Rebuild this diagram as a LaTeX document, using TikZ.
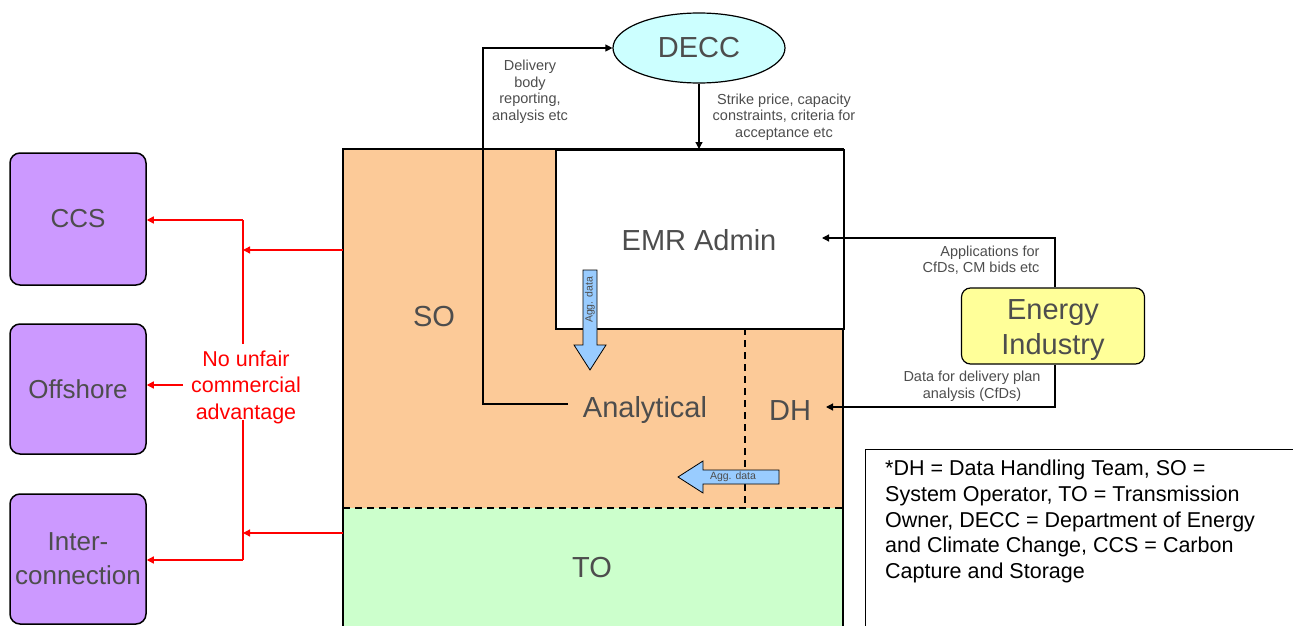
\documentclass[tikz,border=0pt]{standalone}
\usepackage{fontspec}
\setmainfont{Liberation Sans}
\usetikzlibrary{shapes.geometric,arrows.meta}
\definecolor{soorange}{HTML}{FCCA98}
\definecolor{togreen}{HTML}{CCFFCC}
\definecolor{deccblue}{HTML}{CCFFFF}
\definecolor{purp}{HTML}{CC99FF}
\definecolor{yel}{HTML}{FFFF99}
\definecolor{lblue}{HTML}{99CCFF}
\definecolor{txtgray}{HTML}{4D4D4D}
\begin{document}
\begin{tikzpicture}[x=1pt,y=-1pt,
  big/.style={font=\fontsize{29}{34}\selectfont, text=txtgray},
  small/.style={font=\fontsize{14.5}{16.5}\selectfont, text=txtgray, align=center},
  conn/.style={-{Triangle[length=7pt,width=7pt]}, line width=1.2pt},
  redconn/.style={-{Triangle[length=7pt,width=7pt]}, line width=1.3pt, red},
  sidebox/.style={draw, line width=1.5pt, rounded corners=10pt, fill=purp, font=\fontsize{26}{34}\selectfont, text=txtgray, align=center},
  bluearrow/.style={draw, line width=0.8pt, fill=lblue},
  aggtxt/.style={font=\fontsize{10.5}{12}\selectfont, text=txtgray}
]
\useasboundingbox (0,0) rectangle (1293,626);
% SO and TO
\path[fill=soorange] (343,149) rectangle (843,508);
\path[fill=togreen] (343,508) rectangle (843,630);
\draw[line width=1.5pt] (343,630) -- (343,149) -- (843,149) -- (843,630);
\draw[line width=1.8pt, dash pattern=on 7pt off 5pt] (343,508) -- (843,508);
\draw[line width=1.8pt, dash pattern=on 7pt off 5pt] (745,328) -- (745,508);
% EMR Admin
\node[draw, line width=2pt, fill=white, minimum width=288pt, minimum height=179pt, anchor=north west, inner sep=0pt] (emr) at (555,149) {};
\node[big] (emrt) at (699,240) {EMR Admin};
\node[big] (so) at (434,317) {SO};
\node[big] (ana) at (645,410) {Analytical};
\node[big] (dh) at (790,411) {DH};
\node[big] (to) at (592,568) {TO};
% DECC
\node[ellipse, draw, line width=1.2pt, fill=deccblue, minimum width=172pt, minimum height=70pt, inner sep=0pt, font=\fontsize{29}{30}\selectfont, text=txtgray] (decc) at (699,48) {DECC};
% Energy industry
\node[draw, line width=1.2pt, rounded corners=9pt, fill=yel, minimum width=183pt, minimum height=76pt, inner sep=0pt] (ei) at (1053,326) {};
\node[align=center, font=\fontsize{29}{34.5}\selectfont, text=txtgray] (eit) at (1053,330) {Energy\\Industry};
% Side boxes
\node[sidebox, minimum width=136pt, minimum height=132pt, inner sep=0pt] (ccs) at (78,219) {CCS};
\node[sidebox, minimum width=136pt, minimum height=130pt, inner sep=0pt] (off) at (78,389) {Offshore};
\node[sidebox, minimum width=136pt, minimum height=130pt, inner sep=0pt] (inter) at (78,559) {Inter-\\connection};
% Legend
\node[draw, line width=1.2pt, minimum width=435pt, minimum height=180pt, anchor=north west, inner sep=0pt] (leg) at (865,449) {};
\node[anchor=north west, align=left, font=\fontsize{21.5}{25.7}\selectfont, text=black, inner sep=0pt] (legt) at (885,460) {*DH = Data Handling Team, SO =\\System Operator, TO = Transmission\\Owner, DECC = Department of Energy\\and Climate Change, CCS = Carbon\\Capture and Storage};
% Connectors
\coordinate (c1) at (483,404);
\coordinate (c2) at (483,48);
\draw[conn] (568,404) -- (c1) -- (c2) -- (decc.west);
\node[small] (lab1) at (530,92) {Delivery\\body\\reporting,\\analysis etc};
\draw[conn] (decc.south) -- (decc.south |- emr.north);
\node[small] (lab2) at (784,117) {Strike price, capacity\\constraints, criteria for\\acceptance etc};
\coordinate (c3) at (1055,238);
\coordinate (c4) at (1055,407);
\coordinate (e1) at (822,238);
\coordinate (e2) at (826,407);
\draw[conn] (ei.north -| c3) -- (c3) -- (e1);
\draw[conn] (ei.south -| c4) -- (c4) -- (e2);
\node[small, align=right, anchor=east] (lab3) at (1043,260) {Applications for\\CfDs, CM bids etc};
\node[small] (lab4) at (972,386) {Data for delivery plan\\analysis (CfDs)};
% Blue arrows
\draw[bluearrow] (583,270) -- (597,270) -- (597,345) -- (606,345) -- (590,370) -- (574,345) -- (583,345) -- cycle;
\node[rotate=90, aggtxt] (a1t) at (590,300) {Agg. data};
\draw[bluearrow] (779,470) -- (779,484) -- (703,484) -- (703,493) -- (678,477) -- (703,461) -- (703,470) -- cycle;
\node[aggtxt] (a2t) at (733,477) {Agg. data};
% Red
\node[text=red, align=center, font=\fontsize{21.5}{26.5}\selectfont] (nuca) at (246,387) {No unfair\\commercial\\advantage};
\coordinate (r1) at (243,250);
\coordinate (r2) at (243,533);
\coordinate (r3) at (243,220);
\coordinate (r4) at (243,560);
\draw[redconn] (343,250) -- (r1);
\draw[redconn] (343,533) -- (r2);
\draw[line width=1.3pt, red] (243,344) -- (r3);
\draw[line width=1.3pt, red] (243,420) -- (r4);
\draw[redconn] (r3) -- (r3 -| ccs.east);
\draw[redconn] (183,385) -- (183,385 -| off.east);
\draw[redconn] (r4) -- (r4 -| inter.east);
\end{tikzpicture}
\end{document}
